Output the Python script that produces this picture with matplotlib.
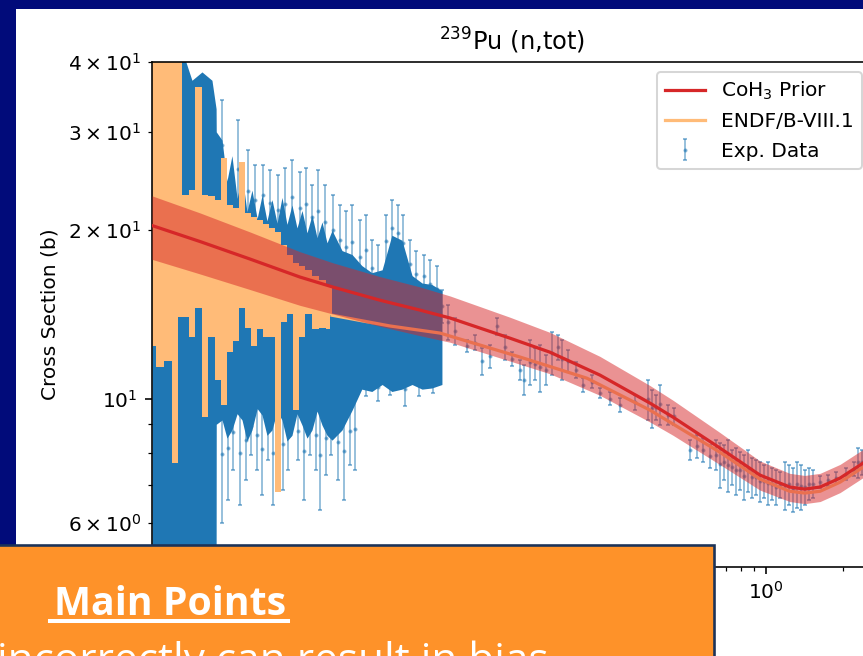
import numpy as np
import matplotlib
matplotlib.use("Agg")
import matplotlib.pyplot as plt
from matplotlib.patches import Rectangle
from matplotlib.lines import Line2D

# ---- data (energy in MeV, cross section in b) ----
# CoH3 prior curve and its relative 1-sigma band
prior_E = [4.00e-3, 6.16e-3, 9.66e-3, 1.514e-2, 2.04e-2, 3.11e-2, 4.46e-2, 5.84e-2,
           0.1001, 0.1434, 0.2249, 0.3527, 0.4337, 0.662, 0.949, 1.24, 1.42, 1.63, 1.95,
           2.40, 2.60]
prior_xs = [20.4, 19.1, 17.77, 16.50, 15.83, 15.0, 14.4, 13.94, 12.83, 12.11, 11.02,
            9.82, 9.27, 8.16, 7.30, 6.95, 6.89, 6.95, 7.21, 7.67, 7.87]
prior_unc = [0.13, 0.125, 0.118, 0.11, 0.105, 0.102, 0.10, 0.095, 0.09, 0.085, 0.08,
             0.075, 0.072, 0.066, 0.06, 0.058, 0.058, 0.058, 0.058, 0.058, 0.058]

# ENDF/B-VIII.1: resonance region (envelope swept by the line) + smooth part
endf_res_E = [4.00e-3, 4.30e-3, 4.62e-3, 4.96e-3, 5.14e-3, 5.38e-3, 5.73e-3, 6.10e-3,
              6.44e-3, 6.80e-3, 7.24e-3, 7.64e-3, 8.07e-3, 8.52e-3, 8.99e-3, 9.49e-3,
              1.001e-2, 1.057e-2, 1.115e-2, 1.177e-2, 1.242e-2, 1.312e-2, 1.38e-2,
              1.461e-2, 1.542e-2, 1.627e-2, 1.733e-2, 1.846e-2, 1.965e-2, 2.02e-2]
endf_res_lo = [12.4, 11.4, 11.7, 7.67, 14.0, 14.0, 12.9, 14.5, 9.27, 12.9, 10.8, 9.74,
               12.1, 12.7, 14.5, 13.4, 12.4, 13.3, 12.9, 12.9, 6.80, 13.7, 14.2, 9.54,
               12.9, 14.2, 13.3, 13.4, 13.3, 14.1]
endf_res_hi = [45, 45, 45, 45, 45, 23.1, 23.6, 36.1, 23.1, 23.0, 22.7, 26.9, 22.2, 21.9,
               26.5, 21.5, 21.1, 20.9, 20.5, 20.2, 19.9, 18.8, 18.1, 17.5, 17.3, 17.0,
               16.6, 16.3, 16.0, 16.0]
endf_E = [2.02e-2, 3.40e-2, 5.34e-2, 0.1096, 0.200, 0.3527, 0.662, 0.949, 1.24, 1.42,
          1.63, 1.95, 2.40, 2.60]
endf_xs = [14.1, 13.49, 13.10, 11.87, 10.88, 9.54, 8.02, 7.18, 6.83, 6.78, 6.83, 7.09,
           7.54, 7.73]

# Exp. data: dense low-energy cloud (min/max spread) ...
exp_env_E = [4.00e-3, 4.38e-3, 4.79e-3, 5.24e-3, 5.73e-3, 6.27e-3, 6.86e-3, 7.12e-3,
             7.13e-3, 7.51e-3, 7.85e-3, 8.21e-3, 8.60e-3, 8.99e-3, 9.40e-3, 9.83e-3,
             1.03e-2, 1.076e-2, 1.125e-2, 1.177e-2, 1.232e-2, 1.288e-2, 1.347e-2, 1.409e-2,
             1.474e-2, 1.542e-2, 1.613e-2, 1.687e-2, 1.765e-2, 1.846e-2, 1.931e-2, 2.02e-2,
             2.21e-2, 2.42e-2, 2.64e-2, 2.89e-2, 3.17e-2, 3.46e-2, 3.79e-2, 4.15e-2,
             4.54e-2, 4.96e-2, 5.43e-2]
exp_env_lo = [4.3, 4.3, 4.3, 4.3, 4.3, 4.3, 4.3, 4.3, 9.0, 9.16, 8.5, 8.79, 9.4, 9.16,
              8.4, 8.79, 9.6, 9.35, 8.6, 8.79, 9.5, 9.16, 8.4, 8.6, 9.4, 8.97, 8.5, 8.79,
              9.5, 8.97, 8.6, 8.43, 8.79, 9.54, 10.4, 10.3, 10.6, 10.3, 10.4, 10.6, 10.4,
              10.45, 10.6]
exp_env_hi = [15.0, 15.0, 18.4, 42.0, 37.1, 38.4, 37.1, 33.0, 30.0, 29.0, 24.5, 27.2, 22.8,
              25.1, 21.6, 23.6, 21.0, 23.1, 20.8, 22.7, 20.6, 22.9, 20.5, 22.2, 20.2, 21.7,
              19.8, 21.3, 19.4, 20.7, 19.0, 20.0, 18.4, 18.1, 17.3, 16.8, 17.0, 19.6, 19.2,
              16.6, 16.1, 16.0, 15.6]

# ... and individual points with error bars (upper fringe, lower fringe, fast region)
exp_up_E = [7.51e-3, 8.67e-3, 9.49e-3, 1.010e-2, 1.086e-2, 1.156e-2, 1.242e-2, 1.323e-2,
            1.409e-2, 1.514e-2, 1.598e-2, 1.687e-2, 1.780e-2, 1.896e-2, 2.037e-2, 2.170e-2,
            2.290e-2, 2.42e-2, 2.598e-2, 2.742e-2, 2.89e-2, 3.054e-2, 3.282e-2, 3.46e-2,
            3.656e-2, 3.824e-2, 4.072e-2, 4.30e-2, 4.62e-2, 4.88e-2, 5.19e-2]
exp_up_xs = [28.45, 25.75, 23.5, 22.7, 23.1, 22.4, 21.75, 22.3, 22.95, 21.9, 22.3, 21.1,
             21.65, 20.7, 20.05, 19.25, 18.65, 19.1, 17.95, 18.45, 17.1, 16.6, 19.15, 20.2,
             19.75, 18.95, 17.4, 16.7, 16.55, 16.05, 15.7]
exp_up_err = [5.75, 5.75, 4.3, 3.5, 3.1, 3.2, 3.35, 3.5, 3.75, 3.5, 3.5, 3.0, 3.95, 3.4,
              3.05, 2.95, 3.05, 3.1, 2.95, 2.85, 2.1, 2.2, 2.15, 2.5, 2.45, 2.35, 1.8, 1.7,
              1.55, 1.65, 1.6]

exp_low_E = [7.51e-3, 7.92e-3, 8.29e-3, 8.83e-3, 9.32e-3, 9.74e-3, 1.028e-2, 1.076e-2,
             1.136e-2, 1.188e-2, 1.300e-2, 1.359e-2, 1.487e-2, 1.570e-2, 1.657e-2,
             1.748e-2, 1.812e-2, 1.913e-2, 2.001e-2, 2.132e-2, 2.249e-2, 2.374e-2, 2.484e-2,
             2.75e-2, 3.05e-2, 3.40e-2, 3.90e-2, 4.40e-2, 5.00e-2]
exp_low_xs = [7.97, 8.16, 8.70, 8.00, 8.45, 8.93, 8.60, 8.13, 8.85, 8.00, 8.30, 8.70, 8.75,
              8.06, 8.93, 8.60, 7.93, 8.52, 8.93, 8.35, 8.06, 8.77, 8.81, 10.6, 10.5,
              10.7, 10.4, 10.6, 10.7]
exp_low_err = [1.98, 1.58, 1.25, 1.55, 1.30, 1.01, 1.15, 1.41, 1.09, 1.55, 1.44, 1.25, 0.99,
               1.48, 1.01, 1.15, 1.61, 1.22, 1.01, 1.20, 1.48, 1.17, 1.36, 0.5, 0.6, 0.55,
               0.7, 0.5, 0.45]

exp_fast_E = [5.43e-2, 5.73e-2, 6.10e-2, 6.80e-2, 7.30e-2, 7.78e-2, 8.37e-2, 8.91e-2,
              9.58e-2, 0.1019, 0.1095, 0.1135, 0.1198, 0.1253, 0.1311, 0.1384, 0.1461,
              0.1542, 0.1598, 0.1687, 0.1813, 0.1930, 0.2093, 0.2249, 0.2461, 0.2693,
              0.3082, 0.3463, 0.359, 0.3722, 0.386, 0.4148, 0.4378, 0.5058, 0.5387, 0.568,
              0.605, 0.6386, 0.662, 0.6863, 0.712, 0.738, 0.765, 0.7926, 0.8217, 0.8518,
              0.883, 0.9154, 0.9488, 0.9836, 1.0197, 1.057, 1.0958, 1.1354, 1.1877, 1.2313,
              1.2764, 1.3232, 1.3716, 1.4219, 1.4737, 1.5277, 1.6275, 1.749, 1.8795, 2.0558,
              2.2095, 2.2904, 2.374]
exp_fast_xs = [14.65, 13.72, 13.2, 12.42, 12.6, 11.67, 11.9, 13.47, 12.36, 11.77, 11.26,
               10.82, 11.65, 11.55, 11.37, 11.27, 12.09, 12.36, 11.76, 11.68, 11.25, 10.58,
               10.73, 10.23, 10.0, 9.74, 9.85, 9.98, 9.61, 9.66, 9.77, 9.36, 9.3, 8.1, 8.22,
               8.1, 7.89, 7.94, 7.63, 7.71, 7.62, 7.55, 7.44, 7.44, 7.26, 7.45, 7.24, 7.24,
               7.12, 7.13, 7.08, 7.05, 6.95, 7.02, 7.01, 7.03, 6.89, 7.04, 6.97, 6.95, 7.05,
               7.05, 7.1, 7.14, 7.21, 7.33, 7.49, 7.69, 7.7]
exp_fast_err = [1.0, 0.99, 0.74, 0.31, 0.39, 0.65, 0.57, 0.48, 0.64, 0.34, 0.47, 0.67, 1.08,
                0.76, 1.1, 0.7, 1.07, 0.64, 0.97, 0.53, 0.37, 0.31, 0.29, 0.21, 0.27, 0.28,
                0.31, 0.82, 0.75, 0.5, 0.8, 0.39, 0.33, 0.34, 0.39, 0.4, 0.38, 0.49, 0.71,
                0.56, 0.81, 0.55, 0.72, 0.58, 0.68, 0.64, 0.6, 0.52, 0.59, 0.49, 0.63, 0.47,
                0.5, 0.38, 0.69, 0.58, 0.62, 0.67, 0.65, 0.5, 0.47, 0.41, 0.18, 0.16, 0.18,
                0.18, 0.21, 0.48, 0.4]

# ---- figure: slide background, white panel, plot, orange call-out ----
W, H, DPI = 863, 656, 145
NAVY = "#010b7a"
fig = plt.figure(figsize=(W / DPI, H / DPI), dpi=DPI, facecolor=NAVY)
fig.patches.append(Rectangle((16 / W, 0), 1, 1 - 9 / H, transform=fig.transFigure,
                             facecolor="white", edgecolor="none", zorder=-5))

ax = fig.add_axes([152 / W, 89 / H, 720 / W, 505 / H])
ax.set_xscale("log")
ax.set_yscale("log")

ax.fill_between(exp_env_E, exp_env_lo, exp_env_hi, color="#1f77b4", lw=0, zorder=1)
exp_E = exp_up_E + exp_low_E + exp_fast_E
exp_xs = exp_up_xs + exp_low_xs + exp_fast_xs
exp_err = exp_up_err + exp_low_err + exp_fast_err
ax.errorbar(exp_E, exp_xs, yerr=exp_err, fmt=".", ms=2, color="#1f77b4",
            elinewidth=0.9, capsize=1, alpha=0.5, label="Exp. Data", zorder=1.5)

ax.fill_between(endf_res_E, endf_res_lo, endf_res_hi, step="mid", color="#ffbb78",
                lw=0, zorder=2)

p = np.array(prior_xs)
u = np.array(prior_unc)
ax.fill_between(prior_E, p * (1 - u), p * (1 + u), color="#d62728", alpha=0.5,
                lw=0, zorder=3)
ax.plot(prior_E, prior_xs, color="#d62728", lw=1.6, zorder=4, label="CoH$_3$ Prior")
ax.plot(endf_E, endf_xs, color="#ffbb78", lw=1.6, zorder=2, label="ENDF/B-VIII.1")

ax.set_xlim(4e-3, 2.6)
ax.set_ylim(5, 40)
ax.set_title("$^{239}$Pu (n,tot)")
ax.set_ylabel("Cross Section (b)")
ax.set_xlabel("Incident Energy (MeV)")
ax.legend(loc="upper right")

# orange "Main Points" box overlapping the chart
fig.patches.append(Rectangle((-0.01, -0.01), 714 / W + 0.01, 111 / H + 0.01,
                             transform=fig.transFigure, facecolor="#fe9229",
                             edgecolor="#1c3358", lw=1.3, zorder=10))
fig.text(170 / W, (H - 615) / H, "Main Points", ha="center", va="baseline",
         fontsize=19.5, fontweight="bold", color="white", family="Open Sans", zorder=11)
fig.lines.append(Line2D([50 / W, 288 / W], [(H - 621) / H] * 2, transform=fig.transFigure,
                        color="white", lw=2, zorder=11))
fig.text(-3 / W, (H - 673) / H, "incorrectly can result in bias", ha="left",
         va="baseline", fontsize=21, color="white", family="Open Sans", zorder=11)

fig.savefig("out.png", dpi=DPI, facecolor=NAVY)
